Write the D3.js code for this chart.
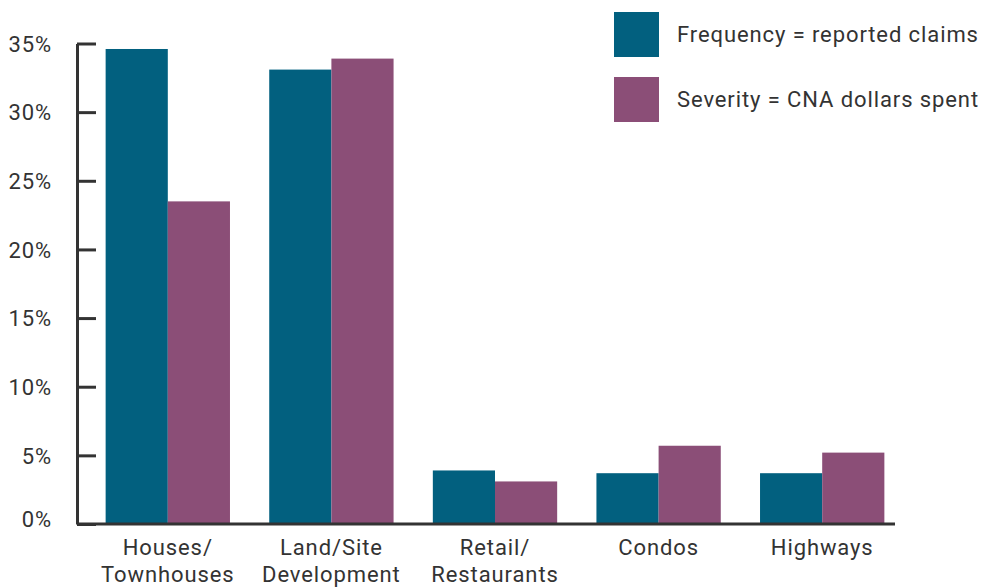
<!DOCTYPE html>
<html>
<head>
<meta charset="utf-8">
<script src="https://cdn.jsdelivr.net/npm/d3@7"></script>
<style>
  html, body { margin: 0; padding: 0; background: #fff; }
  svg text { font-family: Roboto, "DejaVu Sans", sans-serif; fill: #333; letter-spacing: 0.9px; }
</style>
</head>
<body>
<svg id="chart" width="982" height="587"></svg>
<script>
// Claim share by project type
const categories = [["Houses/", "Townhouses"], ["Land/Site", "Development"], ["Retail/", "Restaurants"], ["Condos"], ["Highways"]];
const frequency = [34.6, 33.1, 3.9, 3.7, 3.7];
const severity = [23.5, 33.9, 3.1, 5.7, 5.2];
const seriesNames = ["Frequency = reported claims", "Severity = CNA dollars spent"];
const seriesColors = ["#02607f", "#8b4e77"];
const yTicks = [0, 5, 10, 15, 20, 25, 30, 35];

const svg = d3.select("#chart");

const x = d3.scaleBand()
  .domain(categories.map((d, i) => i))
  .range([86, 904])
  .paddingInner(0.24)
  .paddingOuter(0.12);

const x1 = d3.scaleBand()
  .domain([0, 1])
  .range([0, x.bandwidth()]);

const y = d3.scaleLinear().domain([0, 35]).range([524, 43.5]);

// bars
const groups = svg.append("g").selectAll("g")
  .data(categories.map((c, i) => [frequency[i], severity[i]]))
  .join("g")
  .attr("transform", (d, i) => `translate(${x(i)},0)`);

groups.selectAll("rect")
  .data(d => d)
  .join("rect")
  .attr("x", (d, j) => x1(j))
  .attr("width", x1.bandwidth())
  .attr("y", d => y(d))
  .attr("height", d => y(0) - y(d))
  .attr("fill", (d, j) => seriesColors[j]);

// y axis
const yAxis = svg.append("g")
  .attr("transform", "translate(77,0)")
  .call(d3.axisLeft(y).tickValues(yTicks).tickFormat(d => d + "%")
    .tickSizeInner(-19).tickSizeOuter(0).tickPadding(25));
yAxis.select(".domain").attr("stroke", "#333").attr("stroke-width", 3);
yAxis.selectAll(".tick line").attr("stroke", "#333").attr("stroke-width", 3);
yAxis.selectAll(".tick text")
  .attr("font-size", 22)
  .attr("font-family", null)
  .attr("dy", d => d === 0 ? "0.1em" : "0.35em")
  .attr("fill", "#333");

// baseline
svg.append("line")
  .attr("x1", 77).attr("x2", 895)
  .attr("y1", y(0)).attr("y2", y(0))
  .attr("stroke", "#333").attr("stroke-width", 3);

// category labels
const labels = svg.append("g").selectAll("text")
  .data(categories)
  .join("text")
  .attr("x", (d, i) => x(i) + x.bandwidth() / 2)
  .attr("y", 555)
  .attr("text-anchor", "middle")
  .attr("font-size", 22);
labels.selectAll("tspan")
  .data(d => d)
  .join("tspan")
  .attr("x", function () { return this.parentNode.getAttribute("x"); })
  .attr("dy", (d, k) => k === 0 ? 0 : 27)
  .text(d => d);

// legend
const legend = svg.append("g").selectAll("g")
  .data(seriesNames)
  .join("g")
  .attr("transform", (d, i) => `translate(614,${12 + i * 65})`);
legend.append("rect")
  .attr("width", 45).attr("height", 45)
  .attr("fill", (d, i) => seriesColors[i]);
legend.append("text")
  .attr("x", 63).attr("y", 22.5).attr("dy", "0.35em")
  .attr("font-size", 22)
  .text(d => d);
</script>
</body>
</html>
